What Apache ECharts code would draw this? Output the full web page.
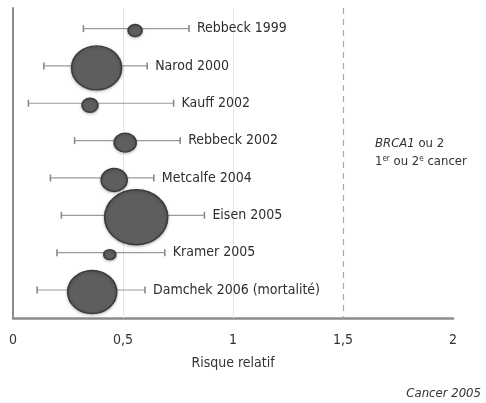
<!DOCTYPE html>
<html>
<head>
<meta charset="utf-8">
<script src="https://cdn.jsdelivr.net/npm/echarts@6/dist/echarts.min.js"></script>
<style>
html,body{margin:0;padding:0;background:#fff;}
#c{width:486px;height:403px;}
</style>
</head>
<body>
<div id="c"></div>
<script>
// Data
var studies = ['Rebbeck 1999','Narod 2000','Kauff 2002','Rebbeck 2002','Metcalfe 2004','Eisen 2005','Kramer 2005','Damchek 2006 (mortalité)'];
var rr      = [0.555, 0.38, 0.35, 0.51, 0.46, 0.56, 0.44, 0.36];
var ciLow   = [0.32, 0.14, 0.07, 0.28, 0.17, 0.22, 0.20, 0.11];
var ciHigh  = [0.80, 0.61, 0.73, 0.76, 0.64, 0.87, 0.69, 0.60];
var weight  = [14, 50, 16, 22, 26, 63, 12, 49];
var xTicks  = ['0','0,5','1','1,5','2'];
var refLines = [0.5, 1, 1.5];

var FONT = "'DejaVu Sans Condensed','Liberation Sans Narrow',sans-serif";

var bubbleData = rr.map(function(v,i){
  return {value:[v,i], symbolSize:[weight[i], Math.round(weight[i]*0.87)]};
});
var barData = studies.map(function(s,i){ return [ciLow[i], ciHigh[i], i, s]; });

var chart = echarts.init(document.getElementById('c'), null, {renderer:'canvas'});
chart.setOption({
  animation:false,
  backgroundColor:'#fff',
  grid:{left:13, right:33, top:8, bottom:85},
  xAxis:{
    type:'value', min:0, max:2, interval:0.5,
    axisLine:{show:true, onZero:false, lineStyle:{color:'#8c8c8c', width:2.5}},
    axisTick:{show:false},
    splitLine:{show:false},
    axisLabel:{color:'#333', fontFamily:FONT, fontSize:14, margin:15,
      formatter:function(v){ return xTicks[Math.round(v/0.5)]; }},
    name:'Risque relatif', nameLocation:'middle', nameGap:38,
    nameTextStyle:{color:'#333', fontFamily:FONT, fontSize:14}
  },
  yAxis:{
    type:'value', inverse:true, min:-0.55, max:7.75,
    axisLine:{show:true, onZero:false, lineStyle:{color:'#8c8c8c', width:2}},
    axisTick:{show:false}, axisLabel:{show:false}, splitLine:{show:false}
  },
  series:[
    {
      type:'scatter',
      data:[],
      z:1,
      markLine:{
        silent:true, symbol:'none', label:{show:false}, z:1,
        data:[
          {xAxis:refLines[0], lineStyle:{color:'#e4e4e4', type:'solid', width:1}},
          {xAxis:refLines[1], lineStyle:{color:'#e4e4e4', type:'solid', width:1}},
          {xAxis:refLines[2], lineStyle:{color:'#a8a8a8', type:[6,5], width:1.2}}
        ]
      }
    },
    {
      type:'custom',
      data:barData,
      z:2,
      renderItem:function(params, api){
        var lo = api.coord([api.value(0), api.value(2)]);
        var hi = api.coord([api.value(1), api.value(2)]);
        var label = studies[params.dataIndex];
        var cap = 3.5;
        var st = {stroke:'#9a9a9a', lineWidth:1.2};
        return {type:'group', children:[
          {type:'line', shape:{x1:lo[0],y1:lo[1],x2:hi[0],y2:hi[1]}, style:st},
          {type:'line', shape:{x1:lo[0],y1:lo[1]-cap,x2:lo[0],y2:lo[1]+cap}, style:{stroke:'#8a8a8a', lineWidth:1.6}},
          {type:'line', shape:{x1:hi[0],y1:hi[1]-cap,x2:hi[0],y2:hi[1]+cap}, style:{stroke:'#8a8a8a', lineWidth:1.6}},
          {type:'text', style:{x:hi[0]+8, y:hi[1], text:label, fill:'#2e2e2e', font:'14px '+FONT, verticalAlign:'middle'}}
        ]};
      }
    },
    {
      type:'scatter',
      data:bubbleData,
      z:3,
      symbol:'circle',
      symbolOffset:[0,2],
      itemStyle:{color:'#5e5e5e', borderColor:'#3c3c3c', borderWidth:1.5, opacity:1,
        shadowColor:'rgba(0,0,0,0.25)', shadowBlur:3, shadowOffsetY:1}
    }
  ],
  graphic:[
    {type:'text', left:375, top:137, style:{
      text:'{i|BRCA1} ou 2', fill:'#333', font:'13px '+FONT,
      rich:{i:{fontStyle:'italic', fontFamily:FONT, fontSize:13, fill:'#333'}}
    }},
    {type:'text', left:375, top:155, style:{
      text:'1{s|er} ou 2{s|e} cancer', fill:'#333', font:'13px '+FONT,
      rich:{s:{fontSize:8, verticalAlign:'top', fontFamily:FONT, fill:'#333', padding:[0,0,6,0]}}
    }},
    {type:'text', right:5, top:387, style:{
      text:'Cancer 2005', fill:'#333', font:'italic 13px '+FONT
    }}
  ]
});
</script>
</body>
</html>
